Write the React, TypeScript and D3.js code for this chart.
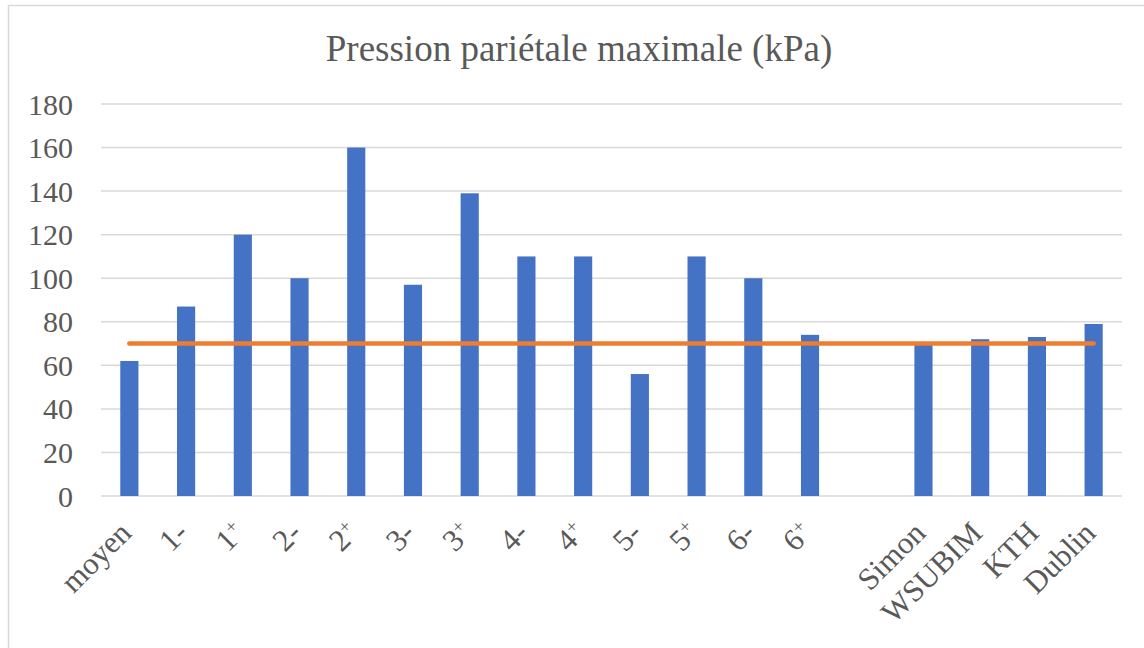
import React from "react";
import * as d3 from "d3";

const categories = ["moyen", "1-", "1+", "2-", "2+", "3-", "3+", "4-", "4+", "5-", "5+", "6-", "6+", "", "Simon", "WSUBIM", "KTH", "Dublin"];
const pressure: (number | null)[] = [62, 87, 120, 100, 160, 97, 139, 110, 110, 56, 110, 100, 74, null, 70, 72, 73, 79];
const reference = 70;
const yTicks = [0, 20, 40, 60, 80, 100, 120, 140, 160, 180];
const title = "Pression pariétale maximale (kPa)";

const W = 1144;
const H = 648;
const left = 101;
const right = 1122;
const top = 104;
const bottom = 496;
const font = "'Liberation Serif', 'Times New Roman', serif";
const textColor = "#595959";

function Label({ text }: { text: string }) {
  if (text.endsWith("+")) {
    return (
      <>
        {text.slice(0, -1)}
        <tspan fontSize="0.6em" dy="-0.55em">+</tspan>
      </>
    );
  }
  return <>{text}</>;
}

export default function App() {
  const x = d3.scaleBand<string>()
    .domain(categories.map((c, i) => String(i)))
    .range([left, right])
    .paddingInner(0.68)
    .paddingOuter(0.34);
  const y = d3.scaleLinear().domain([0, 180]).range([bottom, top]);
  const cx = (i: number) => (x(String(i)) as number) + x.bandwidth() / 2;

  const refLine = d3.line<number>()
    .x((d, i) => cx(i === 0 ? 0 : categories.length - 1))
    .y(() => y(reference));

  return (
    <svg width={W} height={H} style={{ position: "absolute", left: 0, top: 0, background: "#fff" }}>
      <rect x={8.5} y={5.5} width={1160} height={700} fill="#fff" stroke="#d9d9d9" strokeWidth={1.5} />
      <text x={579} y={61} textAnchor="middle" fontFamily={font} fontSize={37} fill={textColor}>{title}</text>
      {yTicks.map((t) => (
        <g key={t}>
          <line x1={left} x2={right} y1={y(t)} y2={y(t)} stroke="#d9d9d9" strokeWidth={1.5} />
          <text x={73} y={y(t)} dy="0.35em" textAnchor="end" fontFamily={font} fontSize={30} fill={textColor}>{t}</text>
        </g>
      ))}
      {pressure.map((v, i) =>
        v == null ? null : (
          <rect key={i} x={x(String(i))} y={y(v)} width={x.bandwidth()} height={y(0) - y(v)} fill="#4472C4" />
        )
      )}
      <path d={refLine([reference, reference]) || ""} stroke="#ED7D31" strokeWidth={4.5} strokeLinecap="round" fill="none" />
      {categories.map((c, i) =>
        c === "" ? null : (
          <text
            key={i}
            transform={`translate(${cx(i) - 4},${bottom + 31}) rotate(-45)`}
            textAnchor="end"
            dy="0.35em"
            fontFamily={font}
            fontSize={31}
            fill={textColor}
          >
            <Label text={c} />
          </text>
        )
      )}
    </svg>
  );
}
